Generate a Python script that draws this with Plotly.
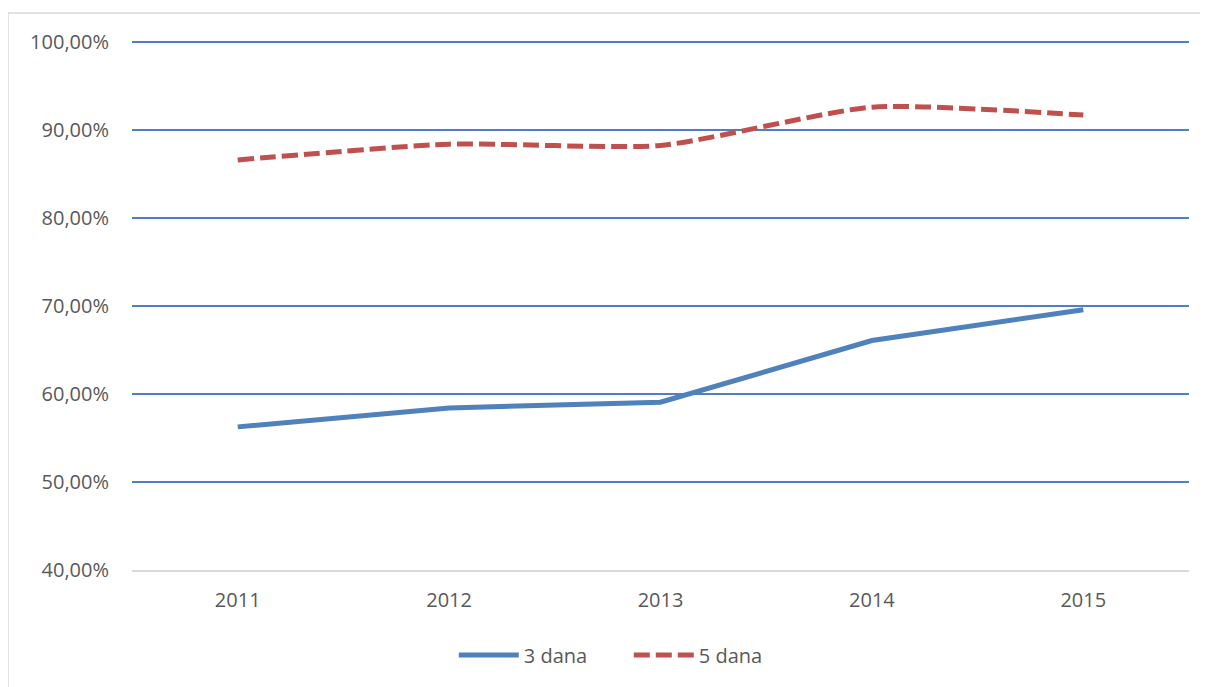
import plotly.graph_objects as go

years = ["2011", "2012", "2013", "2014", "2015"]
dana_3 = [0.5625, 0.584, 0.5905, 0.6605, 0.6955]
dana_5 = [0.8655, 0.8835, 0.882, 0.9255, 0.9165]

BLUE = "#4F81BD"
RED = "#C0504D"
TEXT = "#595959"

fig = go.Figure()
fig.add_trace(go.Scatter(
    x=years, y=dana_3, mode="lines", name="3 dana",
    line=dict(color=BLUE, width=5),
))
fig.add_trace(go.Scatter(
    x=years, y=dana_5, mode="lines", name="5 dana",
    line=dict(color=RED, width=5, dash="16px,6px", shape="spline", smoothing=0.6),
))

# light frame around the chart (Excel chart area border)
fig.add_shape(type="rect", xref="paper", yref="paper",
              x0=-0.1173, x1=1.2, y0=-0.5, y1=1.047,
              line=dict(color="#D9D9D9", width=1.5), layer="below")

# page body has an 8px margin, so the figure is 8px smaller and shifted
fig.update_layout(
    width=1200, height=679,
    margin=dict(l=124, r=19, t=30, b=117),
    paper_bgcolor="white", plot_bgcolor="white",
    separators=",.",
    font=dict(family="Open Sans, Lato, sans-serif", size=20, color=TEXT),
    showlegend=True,
    legend=dict(orientation="h", xanchor="center", x=0.47, yanchor="middle", y=-0.16,
                font=dict(size=20, color=TEXT), itemwidth=60,
                entrywidth=100, entrywidthmode="pixels"),
    xaxis=dict(type="category", range=[-0.5, 4.5], showgrid=False,
               showline=True, linecolor="#D9D9D9", linewidth=2,
               ticks="", ticklabelstandoff=11, zeroline=False),
    yaxis=dict(range=[0.4, 1.004], tickvals=[0.4, 0.5, 0.6, 0.7, 0.8, 0.9, 1.0],
               tickformat=".2%",
               gridcolor=BLUE, gridwidth=1.5, zeroline=False,
               showline=False, ticks="", ticklabelstandoff=22),
)

fig.write_html("out.html")
